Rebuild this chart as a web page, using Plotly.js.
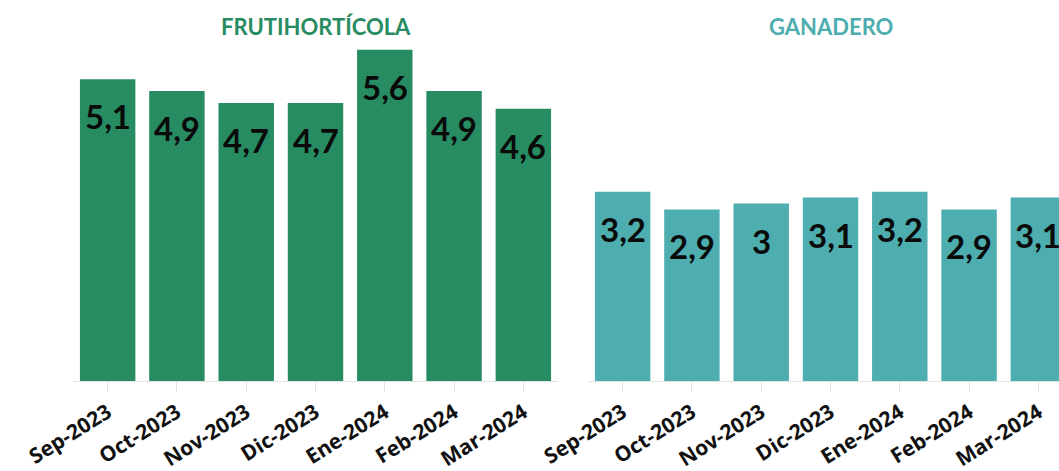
<!DOCTYPE html>
<html>
<head>
<meta charset="utf-8">
<script src="https://cdn.plot.ly/plotly-3.0.1.min.js"></script>
<style>
html,body{margin:0;padding:0;overflow:hidden;background:#fff;}
#chart{width:1080px;height:471px;}
</style>
</head>
<body>
<div id="chart"></div>
<script>
const months = ["Sep-2023","Oct-2023","Nov-2023","Dic-2023","Ene-2024","Feb-2024","Mar-2024"];
const frutihorticola = [5.1, 4.9, 4.7, 4.7, 5.6, 4.9, 4.6];
const ganadero = [3.2, 2.9, 3.0, 3.1, 3.2, 2.9, 3.1];
const panelTitles = ["FRUTIHORTÍCOLA", "GANADERO"];

const green = "#278c62";
const teal = "#4dadaf";
const W = 1080;

function fmt(v){ return String(v).replace(".", ","); }

const traces = [
  {type:"bar", x:months, y:frutihorticola, marker:{color:green}, xaxis:"x", yaxis:"y", hoverinfo:"skip"},
  {type:"bar", x:months, y:ganadero, marker:{color:teal}, xaxis:"x2", yaxis:"y2", hoverinfo:"skip"}
];

const annotations = [];
function addLabels(vals, xa, ya){
  vals.forEach((v,i)=>{
    annotations.push({x:months[i], y:v, xref:xa, yref:ya, text:"<b>"+fmt(v)+"</b>",
      showarrow:false, yanchor:"middle", yshift:-37,
      font:{family:"Lato, Noto Sans, sans-serif", size:33, color:"#0a0a0a"}});
  });
}
addLabels(frutihorticola, "x", "y");
addLabels(ganadero, "x2", "y2");
annotations.push({xref:"x domain", yref:"paper", x:0.5, y:1, yshift:0, yanchor:"middle", showarrow:false,
  text:"<b>"+panelTitles[0]+"</b>", font:{family:"Lato, Open Sans, sans-serif", size:22, color:green}});
annotations.push({xref:"x2 domain", yref:"paper", x:0.5, y:1, yshift:0, yanchor:"middle", showarrow:false,
  text:"<b>"+panelTitles[1]+"</b>", font:{family:"Lato, Open Sans, sans-serif", size:22, color:teal}});

const xcommon = {
  type:"category", tickangle:-32, showline:true, linecolor:"#e3e3e3", linewidth:1,
  ticks:"outside", ticklen:10, tickcolor:"#e3e3e3", showgrid:false, zeroline:false,
  tickfont:{family:"Open Sans", size:21, color:"#111", weight:"bold"},
  fixedrange:true
};
const ycommon = {range:[0,6], visible:false, showgrid:false, zeroline:false, fixedrange:true};

const layout = {
  width:W, height:471,
  margin:{l:0, r:0, t:26, b:90},
  paper_bgcolor:"#fff", plot_bgcolor:"#fff",
  showlegend:false, bargap:0.2,
  xaxis:Object.assign({domain:[73/W, 558/W], anchor:"y"}, xcommon),
  xaxis2:Object.assign({domain:[588/W, 1073/W], anchor:"y2"}, xcommon),
  yaxis:Object.assign({anchor:"x"}, ycommon),
  yaxis2:Object.assign({anchor:"x2"}, ycommon),
  annotations:annotations
};

Plotly.newPlot("chart", traces, layout, {displayModeBar:false, staticPlot:true});
</script>
</body>
</html>
